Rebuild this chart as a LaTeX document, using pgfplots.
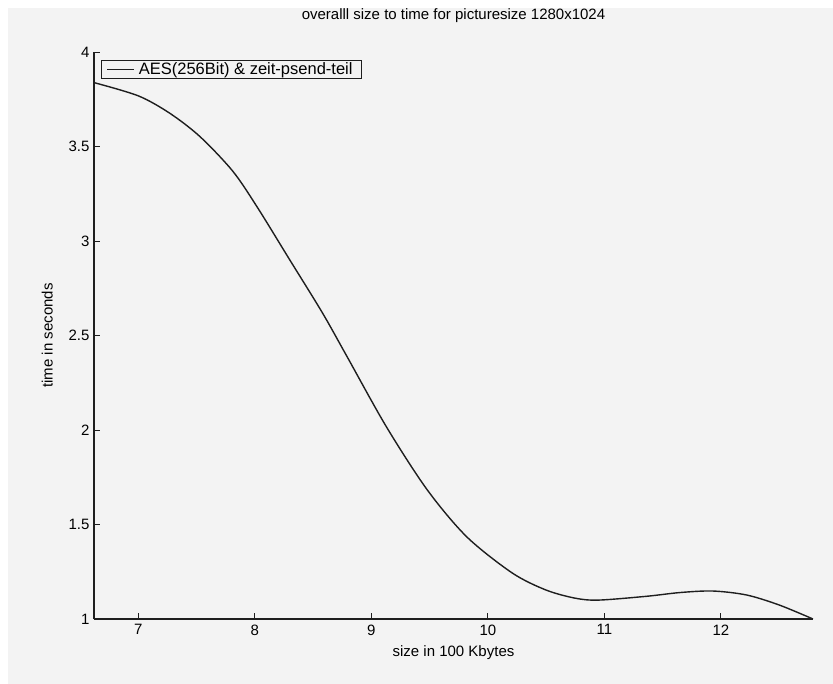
\documentclass[border=0pt]{standalone}
\usepackage{pgfplots}
\pgfplotsset{compat=1.18}
\usepackage{fontspec}
\setmainfont{Liberation Sans}
\definecolor{bg}{HTML}{F3F3F3}
\definecolor{ln}{HTML}{1E1E1E}
\begin{document}
\begin{tikzpicture}
\fill[white] (-94pt,-65pt) rectangle (739pt,619pt);
\fill[bg] (-86pt,-65pt) rectangle (739pt,611pt);
\begin{axis}[
  scale only axis,
  width=719pt, height=567pt,
  xmin=6.62, xmax=12.79, ymin=1, ymax=4,
  axis lines=left,
  axis line style={ln, line width=1.1pt, -},
  xtick={7,8,9,10,11,12},
  ytick={1,1.5,2,2.5,3,3.5,4},
  tick style={ln, line width=0.9pt},
  major tick length=6pt,
  tick align=inside,
  font=\fontsize{15}{17}\selectfont,
  /pgf/number format/assume math mode=true,
  /pgf/number format/fixed,
  xticklabel style={yshift=-2pt},
  yticklabel style={xshift=-1pt},
  title={overalll size to time for picturesize 1280x1024},
  title style={at={(axis description cs:0.5,1)}, anchor=center, yshift=30pt},
  xlabel={size in 100 Kbytes},
  xlabel style={at={(axis description cs:0.5,0)}, anchor=center, yshift=-34pt},
  ylabel={time in seconds},
  ylabel style={at={(axis description cs:-0.065,0.5)}, anchor=center},
  legend image code/.code={\draw[#1] (0pt,0pt) -- (27pt,0pt);},
  legend style={at={(axis description cs:0.0097,0.986)}, anchor=north west,
    draw=ln, line width=1pt, fill=bg, inner xsep=5pt, inner ysep=0.5pt,
    nodes={inner xsep=4pt},
    font=\fontsize{16.5}{18}\selectfont},
  legend cell align=left,
]
\addplot[ln, line width=1.4pt, smooth] coordinates {
(6.62,3.838) (7.00,3.768) (7.27,3.676) (7.53,3.552) (7.81,3.37)
(8.02,3.18) (8.30,2.90) (8.58,2.62) (8.79,2.39) (9.13,2.016)
(9.48,1.683) (9.82,1.434) (10.21,1.243) (10.50,1.153) (10.75,1.11)
(10.95,1.10) (11.36,1.12) (11.65,1.14) (11.93,1.148) (12.22,1.127)
(12.50,1.074) (12.79,1.0)
};
\addlegendentry{AES(256Bit) \& zeit-psend-teil}
\end{axis}
\end{tikzpicture}
\end{document}
